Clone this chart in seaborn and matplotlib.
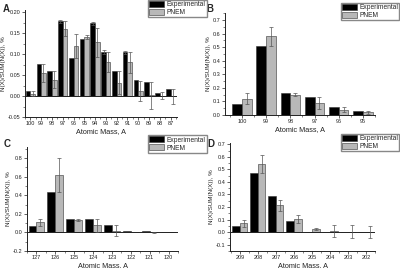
import numpy as np
import pandas as pd
import matplotlib
matplotlib.use("Agg")
import matplotlib.pyplot as plt
import seaborn as sns
from matplotlib.patches import Patch
from matplotlib.ticker import MultipleLocator

# ---------------- data ----------------
a_mass = ["100", "99", "98", "97", "96", "95", "94", "93", "92", "91", "90", "89", "88", "87"]
a_exp = [0.012, 0.076, 0.060, 0.178, 0.090, 0.135, 0.173, 0.105, 0.060, 0.104, 0.038, 0.034, 0.007, 0.016]
a_pnem = [0.005, 0.055, 0.039, 0.161, 0.119, 0.140, 0.128, 0.081, 0.032, 0.080, 0.013, 0.002, 0.001, -0.001]
a_exp_err = [0.0, 0.0, 0.0, 0.004, 0.0, 0.0, 0.003, 0.005, 0.0, 0.004, 0.0, 0.0, 0.0, 0.0]
a_pnem_err = [0.006, 0.021, 0.021, 0.018, 0.029, 0.005, 0.035, 0.024, 0.028, 0.025, 0.024, 0.032, 0.008, 0.017]

b_mass = ["100", "99", "98", "97", "96", "95"]
b_exp = [0.08, 0.51, 0.16, 0.13, 0.06, 0.03]
b_pnem = [0.12, 0.58, 0.15, 0.09, 0.04, 0.02]
b_exp_err = [0.0, 0.0, 0.0, 0.0, 0.0, 0.0]
b_pnem_err = [0.04, 0.07, 0.01, 0.045, 0.02, 0.01]

c_mass = ["127", "126", "125", "124", "123", "122", "121", "120"]
c_exp = [0.07, 0.44, 0.15, 0.15, 0.08, 0.015, 0.012, 0.0]
c_pnem = [0.11, 0.62, 0.135, 0.08, 0.02, 0.008, 0.003, 0.0]
c_exp_err = [0.0, 0.0, 0.0, 0.0, 0.0, 0.0, 0.0, 0.0]
c_pnem_err = [0.04, 0.18, 0.01, 0.07, 0.06, 0.0, 0.005, 0.0]

d_mass = ["209", "208", "207", "206", "205", "204", "203", "202"]
d_exp = [0.05, 0.47, 0.29, 0.09, 0.0, 0.0, 0.0, 0.0]
d_pnem = [0.07, 0.545, 0.215, 0.105, 0.025, 0.01, 0.005, 0.0]
d_exp_err = [0.0, 0.0, 0.0, 0.0, 0.0, 0.0, 0.0, 0.0]
d_pnem_err = [0.03, 0.07, 0.045, 0.03, 0.01, 0.05, 0.05, 0.05]

series = ["Experimental", "PNEM"]
colors = ["#000000", "#b8b8b8"]

sns.set_theme(style="white")
plt.rcParams["font.family"] = ["Liberation Sans", "DejaVu Sans"]

fig = plt.figure(figsize=(4.0, 2.68), dpi=100)

panels = [
    ("A", a_mass, a_exp, a_pnem, a_exp_err, a_pnem_err, [0.0625, 0.5634, 0.380, 0.399], (-0.05, 0.205), 0.05, "%.2f", (-0.5, 13.6), 0.85, (0.37, 1.0), "upper left"),
    ("B", b_mass, b_exp, b_pnem, b_exp_err, b_pnem_err, [0.5625, 0.571, 0.375, 0.380], (0.0, 0.75), 0.1, "%.1f", (-0.7, 5.5), 0.8, (0.998, 0.99), "upper right"),
    ("C", c_mass, c_exp, c_pnem, c_exp_err, c_pnem_err, [0.0675, 0.0634, 0.3775, 0.388], (-0.2, 0.92), 0.2, "%.1f", (-0.5, 7.5), 0.84, (0.37, 0.495), "upper left"),
    ("D", d_mass, d_exp, d_pnem, d_exp_err, d_pnem_err, [0.575, 0.0634, 0.3625, 0.403], (-0.15, 0.71), 0.1, "%.1f", (-0.55, 7.5), 0.84, (0.998, 0.5), "upper right"),
]

label_pos = {"A": (0.008, 0.985), "B": (0.516, 0.985), "C": (0.008, 0.48), "D": (0.519, 0.48)}

for name, mass, exp, pnem, exp_err, pnem_err, rect, ylim, ystep, yfmt, xlim, width, legpos, legloc in panels:
    ax = fig.add_axes(rect)
    df = pd.DataFrame({
        "mass": mass * 2,
        "value": list(exp) + list(pnem),
        "err": list(exp_err) + list(pnem_err),
        "series": [series[0]] * len(mass) + [series[1]] * len(mass),
    })
    sns.barplot(data=df, x="mass", y="value", hue="series", order=mass,
                hue_order=series, palette=colors, saturation=1, width=width,
                errorbar=None, edgecolor="#333333", linewidth=0.4, ax=ax,
                legend=False)
    # error bars at bar centres from the library's bar positions
    for cont, vals, errs in zip(ax.containers, [exp, pnem], [exp_err, pnem_err]):
        xs = [p.get_x() + p.get_width() / 2 for p in cont.patches]
        e = np.array(errs)
        mask = e > 0
        ax.errorbar(np.array(xs)[mask], np.array(vals)[mask], yerr=e[mask],
                    fmt="none", ecolor="#555555", elinewidth=0.5,
                    capsize=1.2, capthick=0.5, zorder=5)
    ax.axhline(0, color="#222222", lw=0.7, zorder=4)
    ax.set_xlim(*xlim)
    ax.set_ylim(*ylim)
    ax.yaxis.set_major_locator(MultipleLocator(ystep))
    ax.yaxis.set_minor_locator(MultipleLocator(ystep / 2))
    ax.yaxis.set_major_formatter(matplotlib.ticker.FormatStrFormatter(yfmt))
    ax.xaxis.set_minor_locator(matplotlib.ticker.FixedLocator(np.arange(len(mass) + 1) - 0.5))
    for s in ["top", "right"]:
        ax.spines[s].set_visible(False)
    for s in ["left", "bottom"]:
        ax.spines[s].set_linewidth(0.7)
        ax.spines[s].set_color("#222222")
    ax.tick_params(axis="both", which="major", direction="out", length=2, width=0.5,
                   labelsize=4.0, pad=1.2, colors="#222222", left=True, bottom=True)
    ax.tick_params(axis="both", which="minor", direction="out", length=1.2, width=0.4,
                   left=True, bottom=True, colors="#222222")
    ax.set_xlabel("Atomic Mass, A", fontsize=5.2, labelpad=1.0, color="#222222")
    ax.set_ylabel("N(X)/SUM(N(X)), %", fontsize=4.5, labelpad=1.5, color="#222222")
    ax.grid(False)
    handles = [Patch(facecolor=c, edgecolor="#333333", linewidth=0.4) for c in colors]
    fig.legend(handles, series, loc=legloc, bbox_to_anchor=legpos,
               bbox_transform=fig.transFigure, fontsize=4.8, frameon=True,
               fancybox=False, edgecolor="#888888", framealpha=1,
               handlelength=2.3, handleheight=1.0, handletextpad=0.35,
               borderpad=0.15, labelspacing=0.1, borderaxespad=0)
    fig.text(label_pos[name][0], label_pos[name][1], name, fontsize=7,
             fontweight="bold", va="top", ha="left")

fig.savefig("out.png", dpi=100)
